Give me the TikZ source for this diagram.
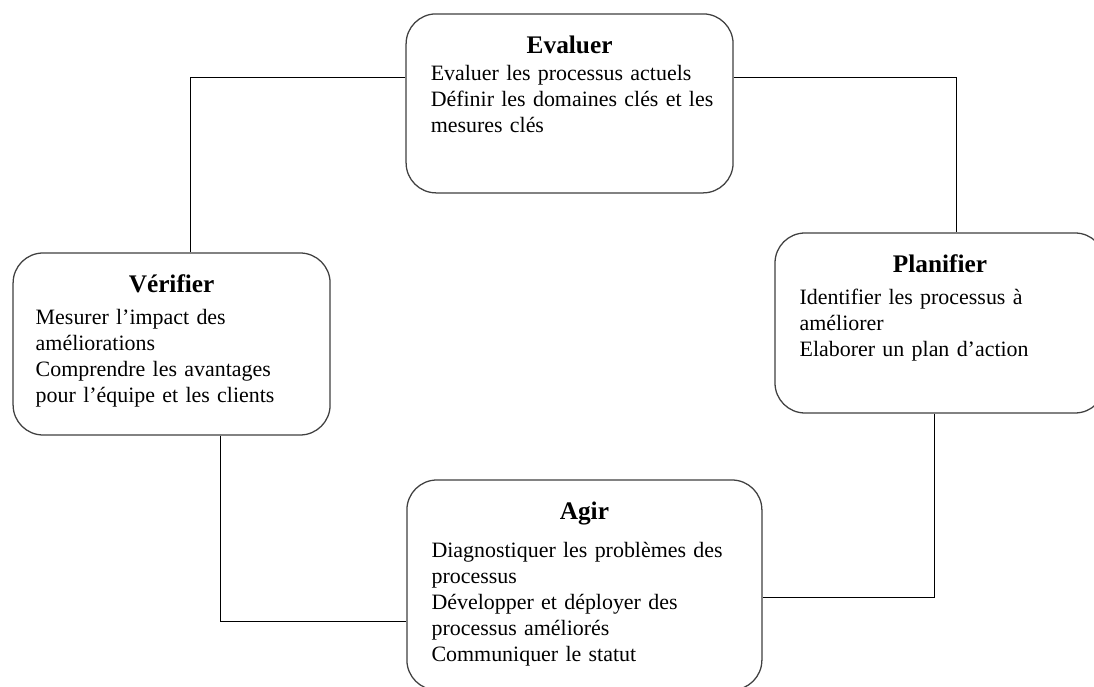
\documentclass[tikz,border=0pt]{standalone}
\usepackage{fontspec}
\setmainfont{Liberation Serif}
\usetikzlibrary{positioning}
\tikzstyle{phase} = [draw=black!75, line width=0.9pt, rounded corners=0.75cm, fill=white]
\tikzstyle{phasetitle} = [anchor=base, inner sep=0pt, font=\fontsize{18}{20}\selectfont\bfseries]
\tikzstyle{phaseitems} = [anchor=base west, inner sep=0pt, text width=7.5cm, align=left, font=\fontsize{15.6}{18.6}\selectfont]
\tikzstyle{link} = [line width=0.6pt]

\begin{document}
\begin{tikzpicture}
        \useasboundingbox[fill=white] (0,0) rectangle (27.35,17.175);

        \node[phase, minimum width=8.175cm, minimum height=4.475cm] (eval) at (14.24,14.59) {};
        \node[phase, minimum width=8.25cm, minimum height=4.5cm] (plan) at (23.5,9.1) {};
        \node[phase, minimum width=7.925cm, minimum height=4.55cm] (verif) at (4.29,8.575) {};
        \node[phase, minimum width=8.875cm, minimum height=5.25cm] (agir) at (14.61,2.55) {};

        \node[phasetitle] (evalT) at ([yshift=-1cm]eval.north) {Evaluer};
        \node[phaseitems] (evalB) at ([xshift=0.625cm, yshift=-1.675cm]eval.north west) {Evaluer les processus actuels\\ Définir les domaines clés et les\\ mesures clés};

        \node[phasetitle] (planT) at ([yshift=-1cm]plan.north) {Planifier};
        \node[phaseitems] (planB) at ([xshift=0.625cm, yshift=-1.8cm]plan.north west) {Identifier les processus à\\ améliorer\\ Elaborer un plan d’action};

        \node[phasetitle] (verifT) at ([yshift=-1cm]verif.north) {Vérifier};
        \node[phaseitems] (verifB) at ([xshift=0.575cm, yshift=-1.8cm]verif.north west) {Mesurer l’impact des\\ améliorations\\ Comprendre les avantages\\ pour l’équipe et les clients};

        \node[phasetitle] (agirT) at ([yshift=-1cm]agir.north) {Agir};
        \node[phaseitems] (agirB) at ([xshift=0.625cm, yshift=-1.95cm]agir.north west) {Diagnostiquer les problèmes des\\ processus\\ Développer et déployer des\\ processus améliorés\\ Communiquer le statut};

        \draw[link] ([yshift=0.64cm]eval.west) -| ([xshift=0.46cm]verif.north);
        \draw[link] ([yshift=0.64cm]eval.east) -| ([xshift=0.4cm]plan.north);
        \draw[link] ([xshift=-0.15cm]plan.south) |- ([yshift=-0.3cm]agir.east);
        \draw[link] ([xshift=1.21cm]verif.south) |- ([yshift=-0.9cm]agir.west);
    \end{tikzpicture}
\end{document}
